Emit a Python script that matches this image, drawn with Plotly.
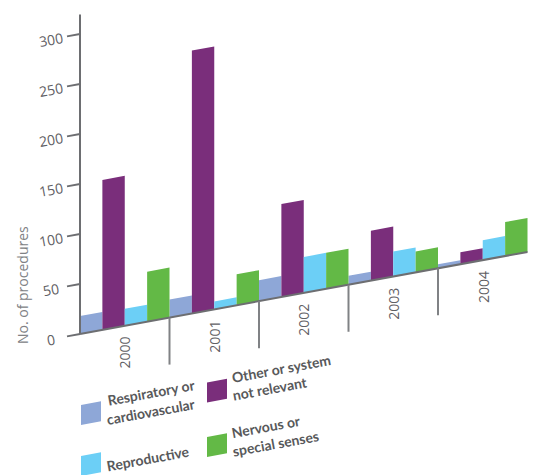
import math
import plotly.graph_objects as go

# ---- data -------------------------------------------------------------
years = ["2000", "2001", "2002", "2003", "2004"]
respiratory = [18, 18, 21, 9, 4]
other = [150, 263, 93, 50, 12]
reproductive = [17, 8, 36, 25, 20]
nervous = [50, 31, 36, 21, 34]
y_ticks = [0, 50, 100, 150, 200, 250, 300]

series_labels = [["Respiratory or", "cardiovascular"], ["Other or system", "not relevant"],
                 ["Reproductive"], ["Nervous or", "special senses"]]
series_values = [respiratory, other, reproductive, nervous]
series_colors = ["#8ea7d7", "#7a2e7b", "#6ccff6", "#63b946"]

# ---- page geometry -----------------------------------------------------
W, H = 537, 475
GROUP_PX = 89.5          # pixels per year group along x
AXIS_X_PX = 80           # pixel column of the value axis
ZERO_PX = 334            # pixel row of value 0 at the axis
SLOPE = 0.1834           # baseline rise per pixel run
RISE = SLOPE * GROUP_PX  # value units gained per group unit (1 value unit = 1 px)
ANGLE = math.degrees(math.atan(SLOPE))

GREY = "#6d6e71"
TEXT_DARK = "#58595b"


def sk(u, v):
    """Oblique projection: value v at group position u."""
    return u, v + RISE * u


def px(xp, yp):
    """Page pixel -> plot coordinates."""
    return (xp - AXIS_X_PX) / GROUP_PX, ZERO_PX - yp


def sheared_rect(u0, u1, v0, v1):
    pts = [sk(u0, v0), sk(u1, v0), sk(u1, v1), sk(u0, v1), sk(u0, v0)]
    return [p[0] for p in pts], [p[1] for p in pts]


fig = go.Figure()

n_series = len(series_values)
slot = 1.0 / n_series

# legend swatch positions (bottom-left corner, page pixels)
swatch_px = [(81, 425), (207, 402.5), (81, 476), (207, 457)]
SW = 20

for k, (vals, col) in enumerate(zip(series_values, series_colors)):
    xs, ys = [], []
    for i, v in enumerate(vals):
        u0 = i + k * slot
        bx, by = sheared_rect(u0, u0 + slot, 0, v)
        xs += bx + [None]
        ys += by + [None]
    # legend swatch, same skew as the chart
    lu, lv = px(*swatch_px[k])
    su = SW / GROUP_PX
    sx = [lu, lu + su, lu + su, lu, lu]
    sy = [lv, lv + SW * SLOPE, lv + SW * SLOPE + SW, lv + SW, lv]
    xs += sx
    ys += sy
    fig.add_trace(go.Scatter(x=xs, y=ys, mode="lines", fill="toself",
                             fillcolor=col, line=dict(width=0, color=col),
                             hoverinfo="skip", showlegend=False))

# baseline along the skewed category axis
bx0, by0 = sk(0, 0)
bx1, by1 = sk(len(years), 0)
fig.add_trace(go.Scatter(x=[bx0, bx1], y=[by0, by1], mode="lines",
                         line=dict(color=GREY, width=2), hoverinfo="skip", showlegend=False))

# value axis
fig.add_trace(go.Scatter(x=[0, 0], y=[0, 319.5], mode="lines",
                         line=dict(color=GREY, width=2), hoverinfo="skip", showlegend=False))

# value ticks, parallel to the baseline
tick_len = 13 / GROUP_PX
tx, ty = [], []
for t in y_ticks:
    a = sk(-tick_len, t)
    b = sk(0, t)
    tx += [a[0], b[0], None]
    ty += [a[1], b[1], None]
fig.add_trace(go.Scatter(x=tx, y=ty, mode="lines", line=dict(color=GREY, width=2),
                         hoverinfo="skip", showlegend=False))

# group separators hanging below the baseline
gx, gy = [], []
for i in range(1, len(years)):
    a = sk(i, 0)
    b = sk(i, -47)
    gx += [a[0], b[0], None]
    gy += [a[1], b[1], None]
fig.add_trace(go.Scatter(x=gx, y=gy, mode="lines", line=dict(color="#808285", width=2),
                         hoverinfo="skip", showlegend=False))

annotations = []
tick_font = dict(family="Open Sans, Noto Sans, sans-serif", size=14, color="#5f6064", weight=500)
for t in y_ticks:
    x, y = sk(-29 / GROUP_PX, t)
    annotations.append(dict(x=x, y=y - 0.5, xref="x", yref="y", text=str(t),
                            showarrow=False, textangle=-ANGLE, font=tick_font,
                            xanchor="center", yanchor="middle"))

for i, yr in enumerate(years):
    x, y = sk(i + 0.5, -27)
    annotations.append(dict(x=x, y=y, xref="x", yref="y", text=yr, showarrow=False,
                            textangle=-90, font=tick_font, xanchor="center", yanchor="middle"))

x, y = px(22, 285)
annotations.append(dict(x=x, y=y, xref="x", yref="y", text="No. of procedures",
                        showarrow=False, textangle=-90,
                        font=dict(family="Open Sans, Noto Sans, sans-serif", size=14, color="#808285"),
                        xanchor="center", yanchor="middle"))

# legend captions: one annotation per line, each centred on its own line
legend_font = dict(family="Lato, Roboto, sans-serif", size=14, color=TEXT_DARK, weight=700)
legend_line_centres = [[(151, 392), (151, 411)], [(281, 368), (270, 388)],
                       [(148, 458)], [(266, 426), (275, 443)]]
for lines, centres in zip(series_labels, legend_line_centres):
    for txt, (xp, yp) in zip(lines, centres):
        x, y = px(xp, yp)
        annotations.append(dict(x=x, y=y, xref="x", yref="y", text=txt, showarrow=False,
                                textangle=-ANGLE, font=legend_font,
                                xanchor="center", yanchor="middle"))

fig.update_layout(
    width=W, height=H,
    margin=dict(l=0, r=0, t=0, b=0),
    paper_bgcolor="white", plot_bgcolor="white",
    xaxis=dict(range=[-AXIS_X_PX / GROUP_PX, (W - AXIS_X_PX) / GROUP_PX],
               visible=False, fixedrange=True),
    yaxis=dict(range=[ZERO_PX - H, ZERO_PX], visible=False, fixedrange=True),
    annotations=annotations,
    showlegend=False,
)

fig.write_html("out.html")
